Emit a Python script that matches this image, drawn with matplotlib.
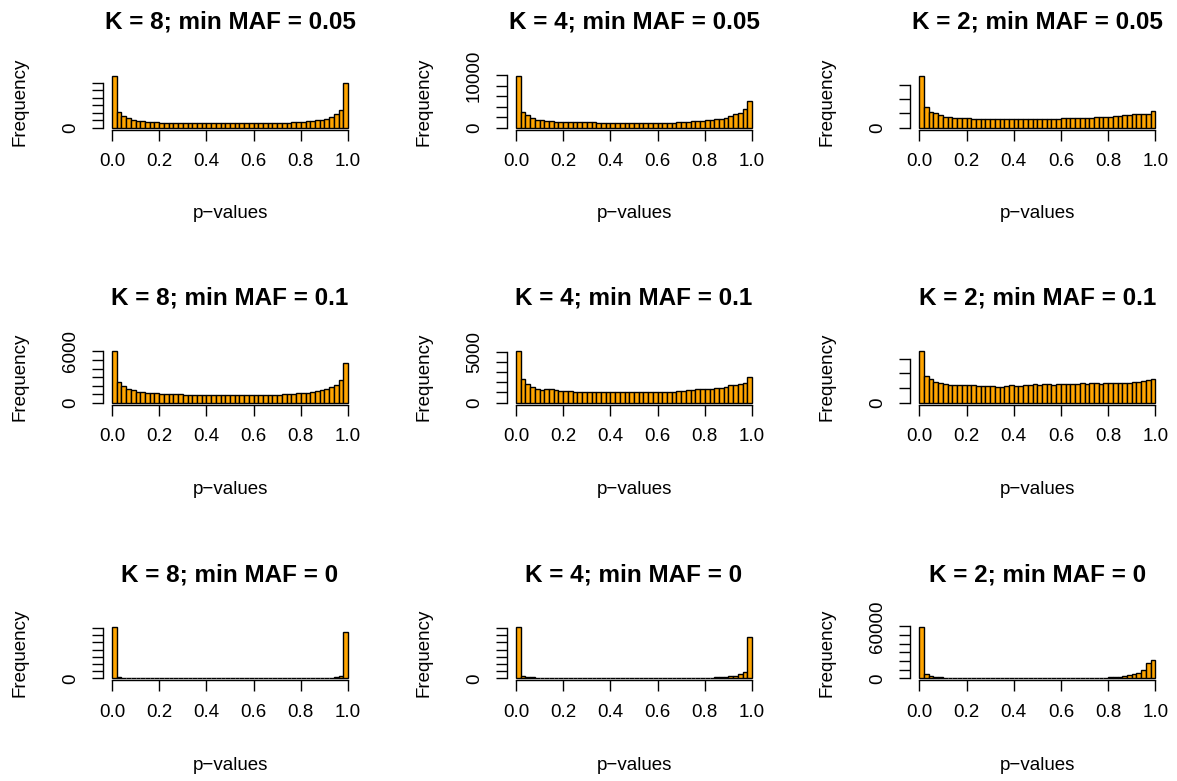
import numpy as np
import matplotlib
matplotlib.use("Agg")
import matplotlib.pyplot as plt

plt.rcParams['font.family'] = ['Liberation Sans', 'DejaVu Sans']

# panel titles, row by row
titles = [
    "K = 8; min MAF = 0.05", "K = 4; min MAF = 0.05", "K = 2; min MAF = 0.05",
    "K = 8; min MAF = 0.1", "K = 4; min MAF = 0.1", "K = 2; min MAF = 0.1",
    "K = 8; min MAF = 0", "K = 4; min MAF = 0", "K = 2; min MAF = 0",
]

# histogram counts, 50 bins of width 0.02 over [0, 1]
k8_maf05 = [13860, 4270, 3110, 2490, 2040, 1870, 1690, 1600, 1510, 1420,
            1380, 1350, 1330, 1310, 1300, 1290, 1270, 1260, 1250, 1240,
            1220, 1200, 1190, 1180, 1170, 1160, 1160, 1160, 1170, 1170,
            1180, 1190, 1200, 1210, 1230, 1260, 1300, 1350, 1420, 1500,
            1600, 1690, 1800, 1950, 2150, 2450, 2900, 3600, 4850, 12000]
k4_maf05 = [9900, 3100, 2450, 1940, 1550, 1420, 1290, 1200, 1160, 1100,
            1080, 1060, 1050, 1040, 1030, 1020, 1000, 990, 980, 970,
            960, 950, 940, 930, 920, 900, 890, 890, 900, 910,
            930, 950, 970, 990, 1020, 1100, 1150, 1220, 1290, 1350,
            1420, 1500, 1610, 1750, 1935, 2190, 2580, 2900, 3550, 5030]
k2_maf05 = [18200, 7150, 5700, 5000, 4500, 3800, 3600, 3550, 3500, 3400,
            3300, 3200, 3150, 3100, 3050, 3050, 3000, 3100, 3000, 2950,
            3000, 3050, 2950, 3000, 3100, 3000, 3050, 3100, 3150, 3200,
            3250, 3300, 3350, 3400, 3400, 3500, 3550, 3600, 3700, 3800,
            3900, 4000, 4100, 4300, 4500, 4650, 4700, 4800, 4900, 5900]
k8_maf1 = [6050, 2380, 1900, 1630, 1430, 1310, 1230, 1190, 1110, 1100,
           1060, 1030, 1000, 980, 960, 950, 940, 930, 920, 910,
           900, 900, 890, 880, 880, 870, 870, 870, 870, 880,
           880, 890, 900, 910, 930, 950, 980, 1010, 1050, 1090,
           1110, 1190, 1270, 1350, 1500, 1590, 1790, 2100, 2620, 4680]
k4_maf1 = [5050, 2290, 1800, 1570, 1370, 1240, 1300, 1300, 1210, 1140,
           1140, 1100, 1060, 1045, 1045, 1040, 1040, 1040, 1045, 1050,
           1040, 1045, 1045, 1050, 1060, 1050, 1060, 1060, 1070, 1080,
           1080, 1090, 1080, 1090, 1100, 1150, 1200, 1250, 1300, 1350,
           1370, 1380, 1400, 1450, 1500, 1700, 1750, 1800, 1950, 2550]
k2_maf1 = [7080, 3660, 3180, 2860, 2720, 2580, 2380, 2380, 2380, 2380,
           2380, 2380, 2300, 2300, 2240, 2240, 2200, 2100, 2240, 2380,
           2300, 2300, 2380, 2400, 2500, 2450, 2500, 2500, 2450, 2500,
           2600, 2550, 2600, 2550, 2650, 2600, 2700, 2650, 2600, 2700,
           2700, 2650, 2750, 2700, 2700, 2800, 2800, 2950, 3100, 3280]
k8_maf0 = [72000, 2400, 1000, 700, 500, 400, 350, 300, 280, 260,
           250, 240, 230, 220, 210, 200, 200, 190, 190, 180,
           180, 180, 170, 170, 170, 170, 170, 170, 180, 180,
           180, 190, 200, 210, 220, 240, 260, 280, 300, 330,
           360, 400, 450, 520, 600, 800, 1100, 1800, 3800, 64000]
k4_maf0 = [72000, 3700, 2300, 1400, 1000, 800, 700, 600, 550, 500,
           460, 430, 400, 380, 360, 340, 320, 310, 300, 300,
           290, 290, 280, 280, 280, 280, 290, 290, 300, 300,
           310, 320, 330, 350, 370, 400, 430, 470, 520, 600,
           700, 900, 1200, 1800, 2500, 2800, 3700, 5600, 8900, 57000]
k2_maf0 = [59800, 4650, 2300, 1550, 1160, 900, 800, 700, 650, 600,
           550, 500, 480, 450, 430, 400, 380, 360, 350, 340,
           330, 320, 310, 300, 300, 300, 300, 310, 320, 330,
           350, 370, 400, 430, 470, 500, 550, 620, 700, 800,
           1160, 1550, 1940, 2700, 3500, 4650, 6600, 9300, 18200, 20900]
counts = [k8_maf05, k4_maf05, k2_maf05, k8_maf1, k4_maf1, k2_maf1,
          k8_maf0, k4_maf0, k2_maf0]

# y axis ticks (R pretty) and which labels R kept
y_ticks = [
    list(range(0, 12001, 2000)), list(range(0, 10001, 2000)), list(range(0, 15001, 5000)),
    list(range(0, 6001, 1000)), list(range(0, 5001, 1000)), list(range(0, 6001, 2000)),
    list(range(0, 70001, 10000)), list(range(0, 70001, 10000)), list(range(0, 60001, 10000)),
]
y_shown = [
    ["0"], ["0", "10000"], ["0"],
    ["0", "6000"], ["0", "5000"], ["0"],
    ["0"], ["0"], ["0", "60000"],
]
x_ticks = [0.0, 0.2, 0.4, 0.6, 0.8, 1.0]

W, H, DPI = 1177, 781, 100
fig = plt.figure(figsize=(W / DPI, H / DPI), dpi=DPI)

col_zero = [112, 516, 919.3]   # pixel of p = 0
unit = 236                      # pixels from p = 0 to p = 1
row_base = [127.7, 402.7, 678.3]
bar_span = 51.7                 # pixels from 0 to max count
title_y = [22, 298, 575]
xlab_y = [213, 490, 766]

edges = np.linspace(0, 1, 51)

for i in range(9):
    r, c = divmod(i, 3)
    x0 = col_zero[c]
    left = x0 - 0.04 * unit
    width = 1.08 * unit
    bottom = row_base[r] + 0.04 * bar_span
    height = 1.08 * bar_span
    ax = fig.add_axes([left / W, (H - bottom) / H, width / W, height / H])

    vals = np.array(counts[i])
    m = vals.max()
    ax.bar(edges[:-1], vals, width=0.02, align='edge', color='orange',
           edgecolor='black', linewidth=1.0)
    ax.set_xlim(-0.04, 1.04)
    ax.set_ylim(-0.04 * m, 1.04 * m)

    for s in ['top', 'right']:
        ax.spines[s].set_visible(False)
    ax.spines['left'].set_bounds(0, y_ticks[i][-1])
    ax.spines['bottom'].set_bounds(0, 1)
    for s in ['left', 'bottom']:
        ax.spines[s].set_linewidth(1.0)

    ax.set_xticks(x_ticks)
    ax.set_xticklabels([f"{t:.1f}" for t in x_ticks])
    ax.set_yticks(y_ticks[i])
    ax.set_yticklabels([str(t) if str(t) in y_shown[i] else "" for t in y_ticks[i]],
                       rotation=90, va='center')
    ax.tick_params(axis='both', length=8, width=1.0, labelsize=13.5)
    ax.tick_params(axis='x', pad=9)
    ax.tick_params(axis='y', pad=9)

    fig.text((x0 + unit / 2) / W, 1 - title_y[r] / H, titles[i],
             ha='center', va='center', fontsize=17.5, fontweight='bold')
    fig.text((x0 + unit / 2) / W, 1 - xlab_y[r] / H, "p\u2212values",
             ha='center', va='center', fontsize=13.5)
    fig.text((x0 - 92) / W, 1 - (row_base[r] - bar_span / 2) / H, "Frequency",
             ha='center', va='center', rotation=90, fontsize=13.5)

fig.savefig("out.png", dpi=DPI)
